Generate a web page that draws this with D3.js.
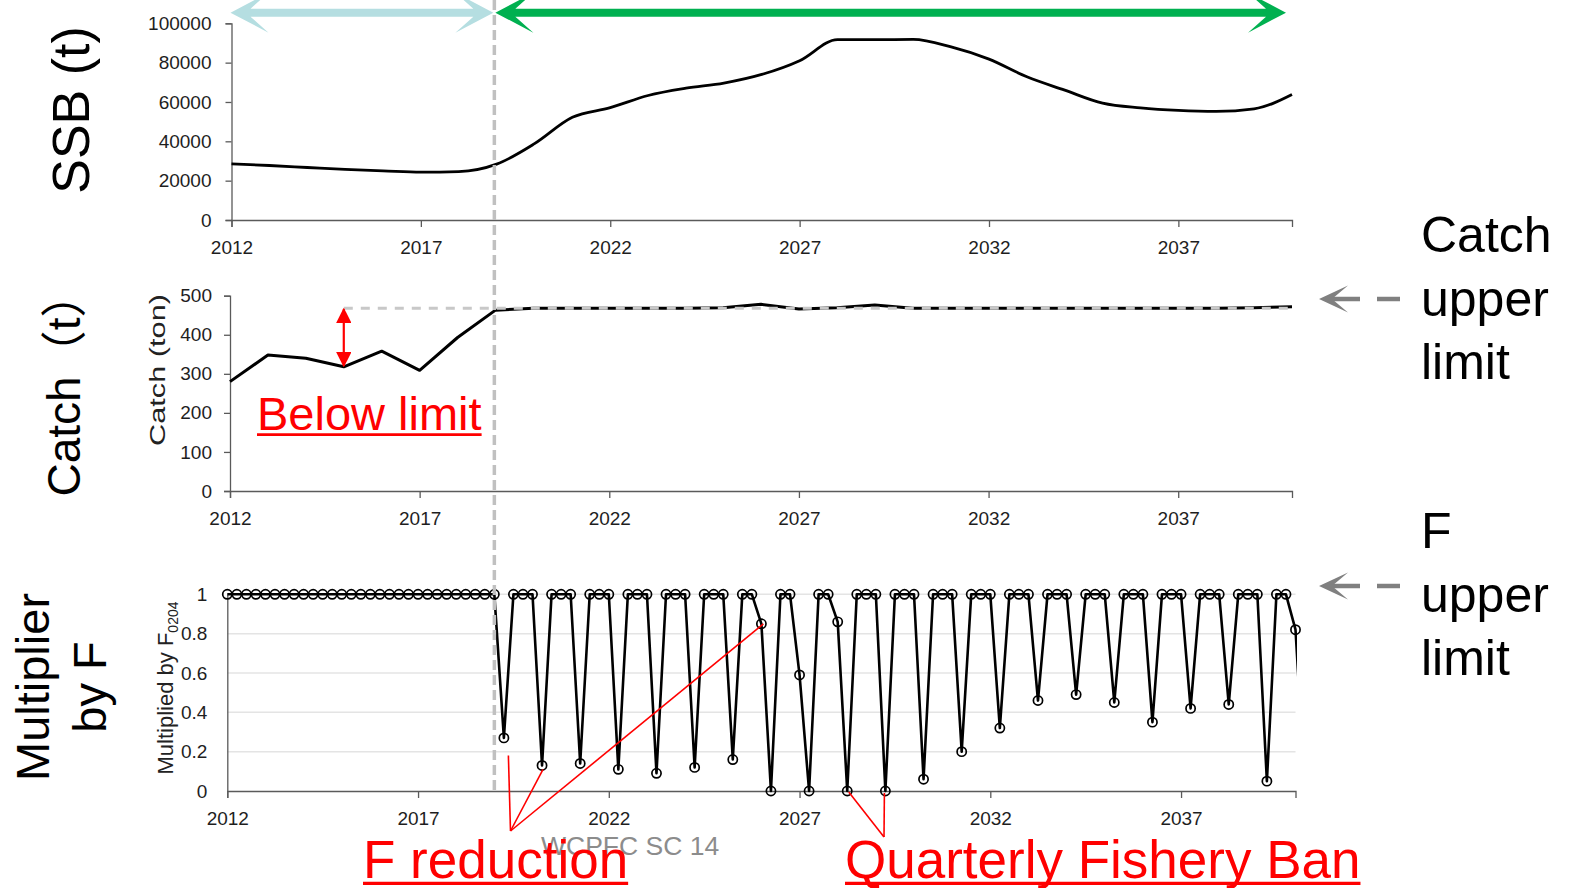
<!DOCTYPE html>
<html>
<head>
<meta charset="utf-8">
<script src="https://cdn.jsdelivr.net/npm/d3@7"></script>
<style>
  html, body { margin: 0; padding: 0; background: #fff; }
  svg { display: block; }
</style>
</head>
<body>
<svg id="chart" width="1576" height="888"></svg>
<script>
// ---- data ----
const years = [2012, 2013, 2014, 2015, 2016, 2017, 2018, 2019, 2020, 2021,
               2022, 2023, 2024, 2025, 2026, 2027, 2028, 2029, 2030, 2031,
               2032, 2033, 2034, 2035, 2036, 2037, 2038, 2039, 2040];

// spawning stock biomass (t)
const ssb = [28500, 27700, 26700, 25700, 25000, 24300, 24600, 28400, 38800, 52200,
             57100, 63300, 67000, 69600, 74000, 81000, 91700, 91700, 91800, 88000,
             81800, 72800, 66000, 59400, 57000, 55700, 55200, 56500, 63800];

// catch (ton)
const catchTon = [280, 348, 340, 318, 358, 309, 393, 463, 468, 468,
                  468, 468, 468, 469, 478, 466, 469, 476, 468, 468,
                  468, 468, 468, 468, 468, 468, 468, 469, 472];
const catchLimit = 468;
const catchLimitFrom = 2015;

// quarterly F multiplier, one row per year (Q1..Q4), starting 2012
const fStart = 2012;
const fMultiplier = [
  1, 1, 1, 1,        // 2012
  1, 1, 1, 1,        // 2013
  1, 1, 1, 1,        // 2014
  1, 1, 1, 1,        // 2015
  1, 1, 1, 1,        // 2016
  1, 1, 1, 1,        // 2017
  1, 1, 1, 1,        // 2018
  1, 0.27, 1, 1,     // 2019
  1, 0.13, 1, 1,     // 2020
  1, 0.14, 1, 1,     // 2021
  1, 0.11, 1, 1,     // 2022
  1, 0.09, 1, 1,     // 2023
  1, 0.12, 1, 1,     // 2024
  1, 0.16, 1, 1,     // 2025
  0.85, 0, 1, 1,     // 2026
  0.59, 0, 1, 1,     // 2027
  0.86, 0, 1, 1,     // 2028
  1, 0, 1, 1,        // 2029
  1, 0.06, 1, 1,     // 2030
  1, 0.20, 1, 1,     // 2031
  1, 0.32, 1, 1,     // 2032
  1, 0.46, 1, 1,     // 2033
  1, 0.49, 1, 1,     // 2034
  1, 0.45, 1, 1,     // 2035
  1, 0.35, 1, 1,     // 2036
  1, 0.42, 1, 1,     // 2037
  1, 0.44, 1, 1,     // 2038
  1, 0.05, 1, 1,     // 2039
  0.82, 0            // 2040
];

const xTickYears = [2012, 2017, 2022, 2027, 2032, 2037];
const ssbTicks = [0, 20000, 40000, 60000, 80000, 100000];
const catchTicks = [0, 100, 200, 300, 400, 500];
const fTicks = [0, 0.2, 0.4, 0.6, 0.8, 1];
const projectionStart = 2019;

// ---- setup ----
const FONT = "'Liberation Sans', Arial, Helvetica, sans-serif";
const svg = d3.select("#chart");
const axisColor = "#5a5a5a";

function styleAxis(g) {
  g.select(".domain").attr("stroke", axisColor).attr("stroke-width", 1.3);
  g.selectAll(".tick line").attr("stroke", axisColor).attr("stroke-width", 1.3);
  g.selectAll(".tick text")
    .attr("fill", "#1e1e1e")
    .style("font-family", FONT)
    .style("font-size", "19px");
}

function xAxisAt(x, y0) {
  const g = svg.append("g").attr("transform", `translate(0,${y0})`)
    .call(d3.axisBottom(x).tickValues(xTickYears).tickFormat(d3.format("d"))
      .tickSizeOuter(0).tickSize(7).tickPadding(14));
  styleAxis(g);
  return g;
}

// ---- panel 1: SSB ----
const xA = d3.scaleLinear().domain([2012, 2040]).range([231.5, 1292]);
const yA = d3.scaleLinear().domain([0, 100000]).range([220, 23.3]);

xAxisAt(xA, 220);
styleAxis(svg.append("g").attr("transform", `translate(${xA(2012)},0)`)
  .call(d3.axisLeft(yA).tickValues(ssbTicks).tickFormat(d3.format("d"))
    .tickSizeOuter(0).tickSize(6).tickPadding(14)));

svg.append("path")
  .datum(years.map((y, i) => [y, ssb[i]]))
  .attr("fill", "none").attr("stroke", "#000").attr("stroke-width", 2.8)
  .attr("stroke-linejoin", "round")
  .attr("d", d3.line().x(d => xA(d[0])).y(d => yA(d[1])).curve(d3.curveMonotoneX));

// ---- panel 2: catch ----
const xB = d3.scaleLinear().domain([2012, 2040]).range([230, 1292]);
const yB = d3.scaleLinear().domain([0, 500]).range([491, 295.7]);

xAxisAt(xB, 491);
styleAxis(svg.append("g").attr("transform", `translate(${xB(2012)},0)`)
  .call(d3.axisLeft(yB).tickValues(catchTicks).tickFormat(d3.format("d"))
    .tickSizeOuter(0).tickSize(6).tickPadding(12)));

svg.append("path")
  .datum(years.map((y, i) => [y, catchTon[i]]))
  .attr("fill", "none").attr("stroke", "#000").attr("stroke-width", 3)
  .attr("stroke-linejoin", "round")
  .attr("d", d3.line().x(d => xB(d[0])).y(d => yB(d[1])));

// catch upper limit (dashed, drawn over the catch line)
svg.append("line")
  .attr("x1", xB(catchLimitFrom)).attr("x2", xB(2040))
  .attr("y1", yB(catchLimit)).attr("y2", yB(catchLimit))
  .attr("stroke", "#c8c8c8").attr("stroke-width", 3)
  .attr("stroke-dasharray", "9,8");

svg.append("text")
  .attr("transform", "translate(165,370) rotate(-90)")
  .attr("text-anchor", "middle")
  .attr("textLength", 152).attr("lengthAdjust", "spacingAndGlyphs")
  .style("font-family", FONT).style("font-size", "22px").attr("fill", "#222")
  .text("Catch (ton)");

// "below limit" gap marker
const redDefs = svg.append("defs");
redDefs.append("marker").attr("id", "redHead")
  .attr("viewBox", "0 0 10 10").attr("refX", 9).attr("refY", 5)
  .attr("markerWidth", 7).attr("markerHeight", 7).attr("markerUnits", "strokeWidth")
  .attr("orient", "auto-start-reverse")
  .append("path").attr("d", "M0,0 L10,5 L0,10 Z").attr("fill", "#ff0000");

const gapX = xB(2015);
svg.append("line")
  .attr("x1", gapX).attr("x2", gapX)
  .attr("y1", yB(catchLimit) + 1).attr("y2", yB(catchTon[years.indexOf(2015)]) - 1)
  .attr("stroke", "#ff0000").attr("stroke-width", 2.2)
  .attr("marker-start", "url(#redHead)").attr("marker-end", "url(#redHead)");

function underlinedText(x, y, txt, size, color) {
  const t = svg.append("text").attr("x", x).attr("y", y)
    .style("font-family", FONT).style("font-size", size + "px")
    .attr("fill", color).text(txt);
  const w = t.node().getComputedTextLength();
  svg.append("line").attr("x1", x).attr("x2", x + w)
    .attr("y1", y + size * 0.1).attr("y2", y + size * 0.1)
    .attr("stroke", color).attr("stroke-width", Math.max(2, size * 0.06));
  return t;
}
underlinedText(257, 430, "Below limit", 47, "#ff0000");

// ---- panel 3: F multiplier ----
const xC = d3.scaleLinear().domain([2012, 2040]).range([227.3, 1295.5]);
const yC = d3.scaleLinear().domain([0, 1]).range([791, 594.3]);

// light grid
svg.append("g").selectAll("line").data(fTicks.filter(d => d > 0)).join("line")
  .attr("x1", xC(2012)).attr("x2", xC(2040))
  .attr("y1", d => yC(d)).attr("y2", d => yC(d))
  .attr("stroke", "#e4e4e4").attr("stroke-width", 1.5);

xAxisAt(xC, 791);
styleAxis(svg.append("g").attr("transform", `translate(${xC(2012)},0)`)
  .call(d3.axisLeft(yC).tickValues(fTicks).tickFormat(d => String(d))
    .tickSizeOuter(0).tickSize(0).tickPadding(20)));

const fPoints = fMultiplier.map((v, i) => [fStart + i / 4, v]);

svg.append("clipPath").attr("id", "fClip")
  .append("rect").attr("x", 0).attr("y", 560).attr("width", xC(2040) + 1.5).attr("height", 260);

svg.append("path")
  .datum(fPoints)
  .attr("clip-path", "url(#fClip)")
  .attr("fill", "none").attr("stroke", "#000").attr("stroke-width", 2.6)
  .attr("stroke-linejoin", "round")
  .attr("d", d3.line().x(d => xC(d[0])).y(d => yC(d[1])));

svg.append("g").selectAll("circle")
  .data(fPoints.filter(d => d[0] <= 2040))
  .join("circle")
  .attr("cx", d => xC(d[0])).attr("cy", d => yC(d[1])).attr("r", 4.6)
  .attr("fill", "none").attr("stroke", "#000").attr("stroke-width", 1.7);

const fLabel = svg.append("text")
  .attr("transform", "translate(173,688) rotate(-90)")
  .attr("text-anchor", "middle")
  .style("font-family", FONT).style("font-size", "22px").attr("fill", "#222");
fLabel.append("tspan").text("Multiplied by F");
fLabel.append("tspan").attr("dy", 5).style("font-size", "14px").text("0204");

// ---- projection divider ----
svg.append("line")
  .attr("x1", xC(projectionStart)).attr("x2", xC(projectionStart))
  .attr("y1", 0).attr("y2", yC(0))
  .attr("stroke", "#c0c0c0").attr("stroke-width", 3.5)
  .attr("stroke-dasharray", "10,5");

// ---- period arrows on top ----
function blockArrow(x1, x2, y, color) {
  const len = 38, half = 20, notch = 20, shaft = 8;
  const p = d3.path();
  p.moveTo(x1, y);
  p.lineTo(x1 + len, y - half);
  p.lineTo(x1 + notch, y - shaft / 2);
  p.lineTo(x2 - notch, y - shaft / 2);
  p.lineTo(x2 - len, y - half);
  p.lineTo(x2, y);
  p.lineTo(x2 - len, y + half);
  p.lineTo(x2 - notch, y + shaft / 2);
  p.lineTo(x1 + notch, y + shaft / 2);
  p.lineTo(x1 + len, y + half);
  p.closePath();
  svg.append("path").attr("d", p.toString()).attr("fill", color);
}
blockArrow(xA(2012) - 1, xC(projectionStart) - 1, 12.7, "#b5dee1");
blockArrow(xC(projectionStart) + 1, 1286, 12.7, "#00b050");

// ---- left titles ----
function bigVertical(x, y, txt, size) {
  svg.append("text")
    .attr("transform", `translate(${x},${y}) rotate(-90)`)
    .attr("text-anchor", "middle")
    .style("font-family", FONT + ", 'Noto Sans CJK JP'")
    .style("font-size", size + "px").attr("fill", "#000")
    .text(txt);
}
bigVertical(89, 110, "SSB (t)", 52);
bigVertical(80, 384, "Catch（t）", 46);
bigVertical(49, 687, "Multiplier", 47);
bigVertical(106, 687, "by F", 47);

// ---- right notes with gray arrows ----
function grayPointer(y) {
  const tip = 1319, len = 29, half = 13.5, notch = 13;
  const p = d3.path();
  p.moveTo(tip, y);
  p.lineTo(tip + len, y - half);
  p.lineTo(tip + notch, y);
  p.lineTo(tip + len, y + half);
  p.closePath();
  svg.append("path").attr("d", p.toString()).attr("fill", "#808080");
  svg.append("line").attr("x1", tip + 8).attr("x2", 1360).attr("y1", y).attr("y2", y)
    .attr("stroke", "#808080").attr("stroke-width", 4.5);
  svg.append("line").attr("x1", 1377).attr("x2", 1400).attr("y1", y).attr("y2", y)
    .attr("stroke", "#808080").attr("stroke-width", 4.5);
}
function rightNote(lines, firstBaseline) {
  const t = svg.append("text").style("font-family", FONT)
    .style("font-size", "50px").attr("fill", "#000");
  lines.forEach((s, i) => {
    t.append("tspan").attr("x", 1421).attr("y", firstBaseline + i * 63.5).text(s);
  });
}
grayPointer(299);
rightNote(["Catch", "upper", "limit"], 252);
grayPointer(586);
rightNote(["F", "upper", "limit"], 548);

// ---- bottom annotations ----
svg.append("text").attr("x", 541).attr("y", 855)
  .style("font-family", FONT).style("font-size", "26.5px").attr("fill", "#8c8c8c")
  .text("WCPFC SC 14");

const redLine = (a, b) => svg.append("line")
  .attr("x1", a[0]).attr("y1", a[1]).attr("x2", b[0]).attr("y2", b[1])
  .attr("stroke", "#ff0000").attr("stroke-width", 1.6);

const fRedApex = [510.5, 831];
redLine(fRedApex, [xC(2019.25) + 4.5, yC(0.18)]);
redLine(fRedApex, [xC(2020.25) + 1, yC(0.13) + 4]);
redLine(fRedApex, [xC(2026.0) + 2, yC(0.85)]);

const banApex = [884, 837];
redLine(banApex, [xC(2028.25) + 1.5, yC(0) + 1]);
redLine(banApex, [xC(2029.25) - 1, yC(0) + 2]);

underlinedText(363, 878, "F reduction", 53, "#ff0000");
underlinedText(845, 878, "Quarterly Fishery Ban", 53, "#ff0000");
</script>
</body>
</html>
